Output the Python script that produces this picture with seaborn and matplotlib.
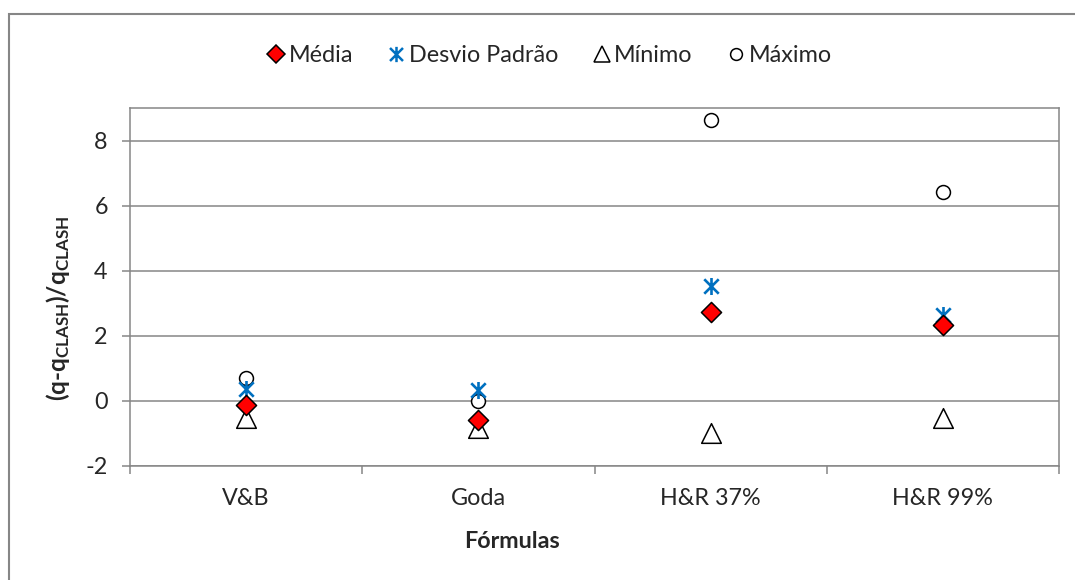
import numpy as np
import pandas as pd
import matplotlib

matplotlib.use("Agg")
import matplotlib.pyplot as plt
from matplotlib.path import Path
from matplotlib.lines import Line2D
from matplotlib.patches import Rectangle
import seaborn as sns

# data
FORMULAS = ["V&B", "Goda", "H&R 37%", "H&R 99%"]
MEDIA = [-0.14, -0.58, 2.72, 2.32]
DESVIO = [0.37, 0.32, 3.52, 2.65]
MINIMO = [-0.52, -0.82, -1.00, -0.54]
MAXIMO = [0.69, 0.00, 8.62, 6.42]
SERIES_NAMES = ["Média", "Desvio Padrão", "Mínimo", "Máximo"]
Y_TICKS = [-2, 0, 2, 4, 6, 8]

GRAY = "#868686"
BLUE = "#0070C0"
FONT = "Lato"
FS = 16.8

sns.set_theme(style="white")
plt.rcParams["font.family"] = [FONT, "DejaVu Sans"]
plt.rcParams["axes.unicode_minus"] = False
plt.rcParams["mathtext.fontset"] = "custom"
plt.rcParams["mathtext.rm"] = FONT
plt.rcParams["mathtext.bf"] = f"{FONT}:bold"
plt.rcParams["mathtext.it"] = f"{FONT}:italic"

# Excel-style asterisk: vertical bar plus an X
ASTERISK = Path(
    [(0, -1), (0, 1), (-0.85, -0.85), (0.85, 0.85), (-0.85, 0.85), (0.85, -0.85)],
    [Path.MOVETO, Path.LINETO] * 3,
)

df = pd.DataFrame(
    {
        "Fórmula": FORMULAS * 4,
        "valor": MEDIA + DESVIO + MINIMO + MAXIMO,
        "serie": np.repeat(SERIES_NAMES, len(FORMULAS)),
    }
)

STYLES = {
    "Média": dict(marker="D", s=105, color="#FF0000", edgecolor="black", linewidth=1.1),
    "Desvio Padrão": dict(marker=ASTERISK, s=150, color=BLUE, linewidth=1.9),
    "Mínimo": dict(marker="^", s=200, color="white", edgecolor="black", linewidth=1.1),
    "Máximo": dict(marker="o", s=100, color="white", edgecolor="black", linewidth=1.1),
}
ORDER = ["Mínimo", "Máximo", "Desvio Padrão", "Média"]

fig = plt.figure(figsize=(10.75, 5.8), dpi=100)
ax = fig.add_axes([130 / 1075, 1 - 466 / 580, 929 / 1075, 358 / 580])

for name in ORDER:
    sub = df[df["serie"] == name]
    st = STYLES[name]
    if name == "Desvio Padrão":
        # line-only marker: no edgecolor so the strokes take the blue colour
        ax.scatter(
            np.arange(len(FORMULAS)), sub["valor"], marker=st["marker"], s=st["s"],
            color=st["color"], linewidths=st["linewidth"], zorder=3,
        )
        continue
    sns.scatterplot(
        data=sub, x="Fórmula", y="valor", ax=ax, legend=False, zorder=3, **st
    )

ax.set_xlim(-0.5, 3.5)
ax.set_ylim(-2, 9)
ax.set_yticks(Y_TICKS)
ax.set_xticks(range(len(FORMULAS)))
ax.set_xticklabels(FORMULAS)
ax.set_xticks(np.arange(-0.5, 4, 1), minor=True)
ax.set_xlabel("")
ax.set_ylabel("")

ax.grid(axis="y", color=GRAY, lw=1.1)
ax.set_axisbelow(True)
for sp in ax.spines.values():
    sp.set_color(GRAY)
    sp.set_linewidth(1.1)
    sp.set_visible(True)

ax.tick_params(axis="y", which="major", length=6, width=1.1, color=GRAY,
               direction="out", left=True, labelsize=FS, pad=10)
ax.tick_params(axis="x", which="major", length=0, labelsize=FS, pad=16)
ax.tick_params(axis="x", which="minor", length=6, width=1.1, color=GRAY,
               direction="out", bottom=True)

fig.text(58 / 1075, 1 - 308 / 580,
         r"$\mathbf{(q}$-$\mathbf{q_{CLASH})/q_{CLASH}}$",
         rotation=90, ha="center", va="center", fontsize=FS + 0.7, fontweight="bold")
fig.text(512 / 1075, 1 - 542 / 580, "Fórmulas",
         ha="center", va="center", fontsize=FS, fontweight="bold")

handles = []
for name in SERIES_NAMES:
    st = STYLES[name]
    if name == "Desvio Padrão":
        h = Line2D([], [], ls="", marker=ASTERISK, markersize=11,
                   color=BLUE, markeredgewidth=1.8)
    else:
        h = Line2D([], [], ls="", marker=st["marker"],
                   markersize=np.sqrt(st["s"]) * 0.85,
                   markerfacecolor=st["color"], markeredgecolor="black",
                   markeredgewidth=1.1)
    handles.append(h)

fig.legend(handles, SERIES_NAMES, loc="center", ncol=4,
           bbox_to_anchor=(548 / 1075, 1 - 56 / 580), frameon=False,
           fontsize=FS, handletextpad=0.05, columnspacing=1.35, handlelength=1.0)

# outer chart-area border (only top/left show in the crop)
fig.patches.append(Rectangle((9 / 1075, -0.05), 1.1, 1 - 14 / 580 + 0.05,
                             transform=fig.transFigure, fill=False,
                             edgecolor=GRAY, lw=1.5))

fig.savefig("out.png", dpi=100, facecolor="white")
